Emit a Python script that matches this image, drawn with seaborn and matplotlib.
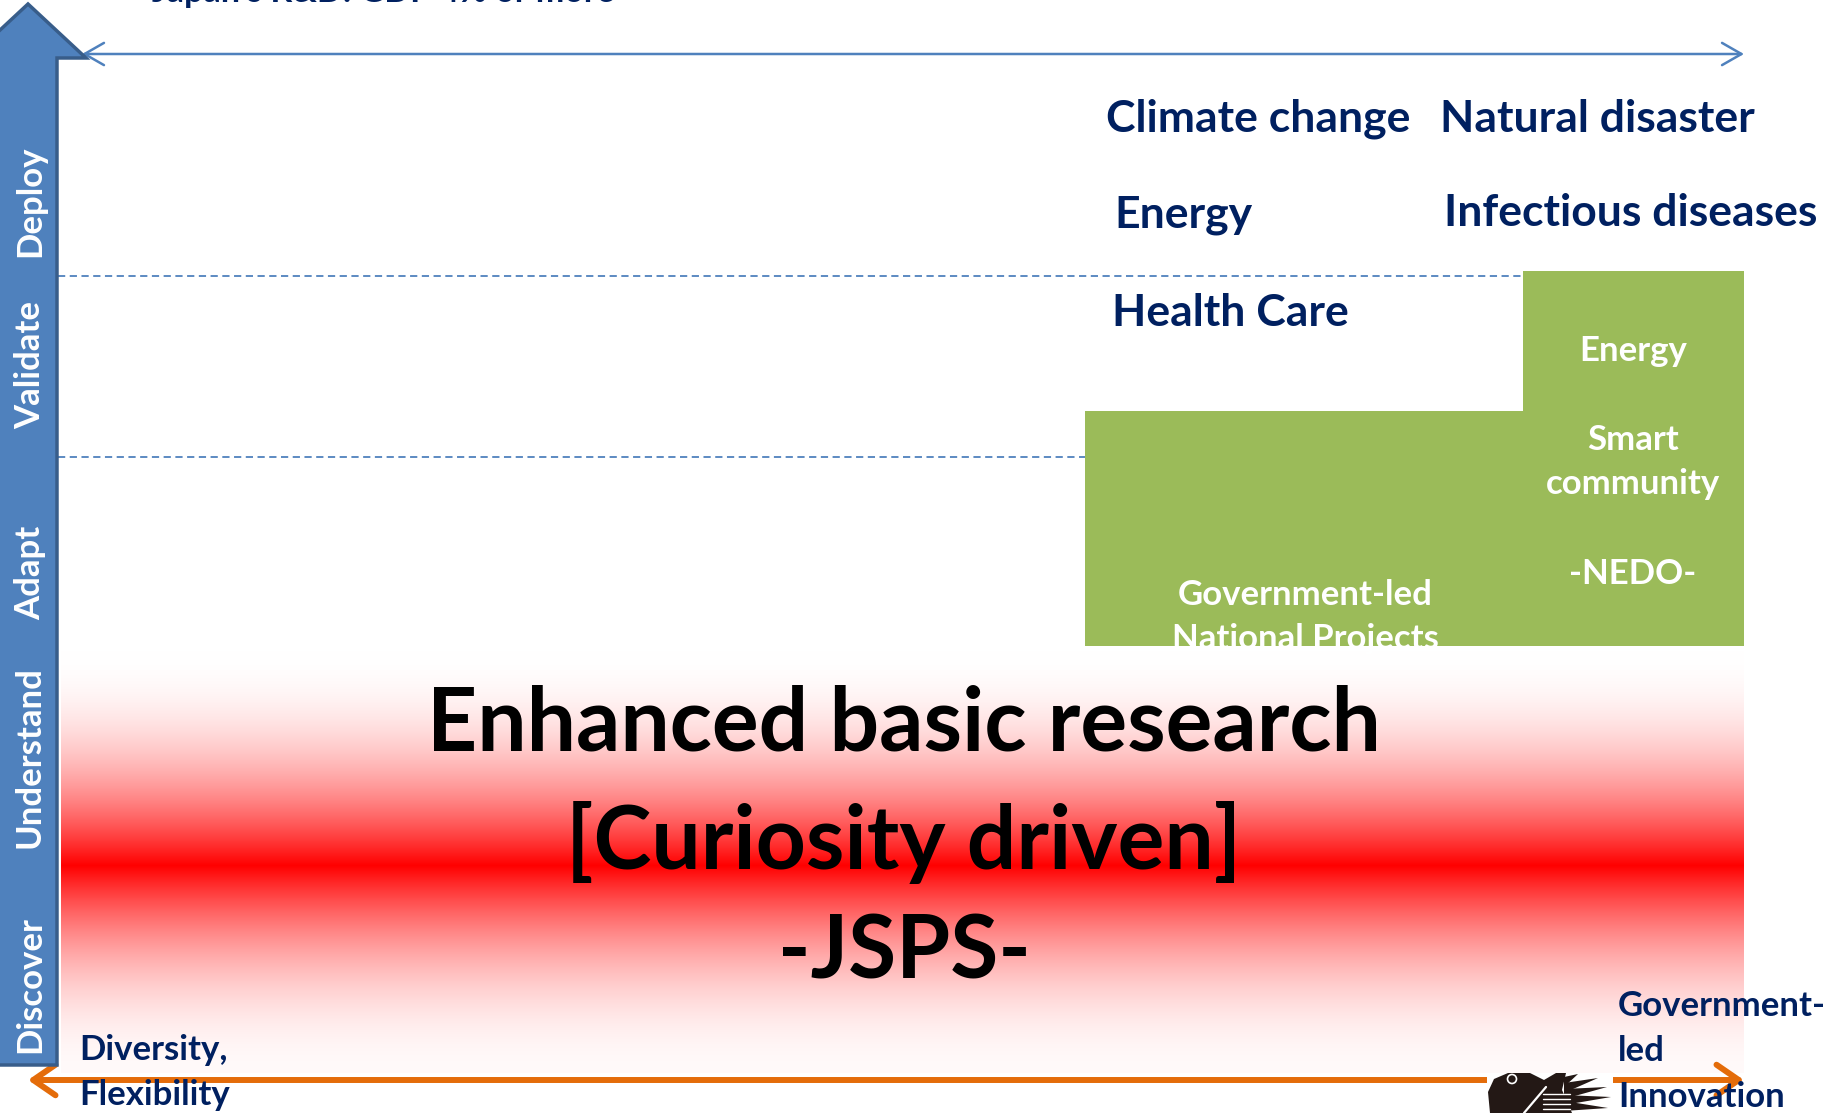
import numpy as np
import matplotlib
matplotlib.use("Agg")
import matplotlib.pyplot as plt
import seaborn as sns
from matplotlib.patches import Polygon, Rectangle, Circle

sns.set_theme(style="white")
plt.rcParams['font.family'] = ['Lato', 'DejaVu Sans']
plt.rcParams['font.weight'] = 'bold'

# ---- content ----
stages = ["Discover", "Understand", "Adapt", "Validate", "Deploy"]
stage_y = [985, 757, 573, 365, 201]

topics = ["Climate change", "Natural disaster", "Energy", "Infectious diseases", "Health Care"]
topic_xy = [(1106, 119), (1440, 119), (1114, 215), (1444, 213), (1112, 313)]

# green blocks: (x0, x1, top) all reaching down to the same bottom
green_x0 = [1085, 1523]
green_x1 = [1744, 1744]
green_top = [411, 271]
green_bottom = 646

nedo_lines = ["Energy", "Smart", "community", "-NEDO-"]
nedo_y = [351, 440, 484, 574]
gov_lines = ["Government-led", "National Projects"]
gov_y = [595, 639]

basic_lines = ["Enhanced basic research", "[Curiosity driven]", "-JSPS-"]
basic_y = [725, 842, 953]

left_lines = ["Diversity,", "Flexibility"]
left_y = [1050, 1095]
right_lines = ["Government-", "led", "Innovation"]
right_y = [1006, 1051, 1097]

top_title = "Japan's R&D: GDP 4% or more"

# stage boundaries drawn as dashed guides: (y, x_end)
guide_y = [276, 457]
guide_x_end = [1523, 1085]

NAVY = "#002060"
GREEN = "#9BBB59"
BLUE = "#4F81BD"
BLUE_DARK = "#385D8A"
ORANGE = "#E46C0A"
INK = "#231815"

W, H = 1833, 1113
fig = plt.figure(figsize=(W / 100, H / 100), dpi=100)
ax = fig.add_axes([0, 0, 1, 1])
ax.set_xlim(0, W)
ax.set_ylim(H, 0)
ax.axis("off")

# red gradient band (basic research)
top, peak, bot = 651, 865, 1073
ys = np.arange(top, bot)
a = np.where(ys <= peak, ((ys - top) / (peak - top)) ** 2,
             0.02 + 0.98 * ((bot - ys) / (bot - peak)) ** 2)
img = np.ones((len(ys), 2, 3))
img[:, :, 1] = (1 - a)[:, None]
img[:, :, 2] = (1 - a)[:, None]
ax.imshow(img, extent=[61, 1744, bot, top], aspect="auto", zorder=1, interpolation="bilinear")

# green blocks
for x0, x1, t in zip(green_x0, green_x1, green_top):
    ax.add_patch(Rectangle((x0, t), x1 - x0, green_bottom - t, color=GREEN, lw=0, zorder=2))
clip_rect = Rectangle((green_x0[0], green_top[0]), green_x1[0] - green_x0[0],
                      green_bottom - green_top[0], transform=ax.transData, fill=False, lw=0)
ax.add_patch(clip_rect)

# dashed guides
for y, xe in zip(guide_y, guide_x_end):
    sns.lineplot(x=[58, xe], y=[y, y], ax=ax, color=BLUE, lw=1.3, ls=(0, (4, 2.5)), zorder=3)

# blue stage arrow
arrow = Polygon([(-3, 1065), (-3, 58), (-30, 58), (28, 4), (86, 58), (57, 58), (57, 1065)],
                closed=True, facecolor=BLUE, edgecolor=BLUE_DARK, lw=2.5, zorder=4)
ax.add_patch(arrow)
for name, y in zip(stages, stage_y):
    ax.text(30, y, name, rotation=90, ha="center", va="center", color="white",
            fontsize=25, fontweight="bold", zorder=5)

# top double arrow
ax.annotate("", xy=(1744, 54), xytext=(82, 54),
            arrowprops=dict(arrowstyle="<->,head_length=0.7,head_width=0.4",
                            color=BLUE, lw=1.8, mutation_scale=20, shrinkA=0, shrinkB=0), zorder=3)
ax.text(152, 2, top_title, ha="left", va="baseline", color=NAVY, fontsize=24.5, fontweight="bold")

# bottom orange double arrow
ax.annotate("", xy=(1744, 1080), xytext=(28, 1080),
            arrowprops=dict(arrowstyle="<->,head_length=0.8,head_width=0.55",
                            color=ORANGE, lw=4.3, mutation_scale=20, shrinkA=0, shrinkB=0), zorder=3)

# logo (rough silhouette) sitting on the orange arrow
ax.add_patch(Rectangle((1487, 1073), 126, 45, color="white", lw=0, zorder=4))
body = [(1490, 1113), (1488, 1092), (1494, 1079), (1508, 1073), (1530, 1073), (1544, 1080),
        (1556, 1073), (1566, 1073), (1562, 1090), (1572, 1113)]
ax.add_patch(Polygon(body, closed=True, color=INK, lw=0, zorder=5))
ax.add_patch(Circle((1512, 1079), 4.5, fill=False, edgecolor="white", lw=1.2, zorder=6))
ax.plot([1546, 1524], [1087, 1113], color="white", lw=1.6, zorder=6)
for yy in [1094, 1099, 1104, 1109]:
    ax.plot([1543, 1570], [yy, yy], color="white", lw=1.0, zorder=6)
feather_tips = [(1578, 1074), (1598, 1078), (1607, 1087), (1611, 1097), (1608, 1108)]
feather_base = [1082, 1088, 1094, 1100, 1106]
for tip, by in zip(feather_tips, feather_base):
    ax.add_patch(Polygon([(1564, by - 5), (1564, by + 5), tip], closed=True,
                         color=INK, lw=0, zorder=5))

# topic labels
for txt, (x, y) in zip(topics, topic_xy):
    ax.text(x, y, txt, ha="left", va="center", color=NAVY, fontsize=32, fontweight="bold", zorder=6)

# NEDO block text
for txt, y in zip(nedo_lines, nedo_y):
    ax.text(1633, y, txt, ha="center", va="center", color="white", fontsize=25,
            fontweight="bold", zorder=6)
for txt, y in zip(gov_lines, gov_y):
    t = ax.text(1305, y, txt, ha="center", va="center", color="white", fontsize=25,
                fontweight="bold", zorder=6)
    t.set_clip_path(clip_rect)

# basic research text
for txt, y in zip(basic_lines, basic_y):
    ax.text(904, y, txt, ha="center", va="center", color="black", fontsize=63,
            fontweight="bold", zorder=6)

# axis end labels
for txt, y in zip(left_lines, left_y):
    ax.text(79, y, txt, ha="left", va="center", color=NAVY, fontsize=25, fontweight="bold", zorder=6)
for txt, y in zip(right_lines, right_y):
    ax.text(1618, y, txt, ha="left", va="center", color=NAVY, fontsize=25, fontweight="bold", zorder=7)

fig.savefig("out.png", dpi=100)
